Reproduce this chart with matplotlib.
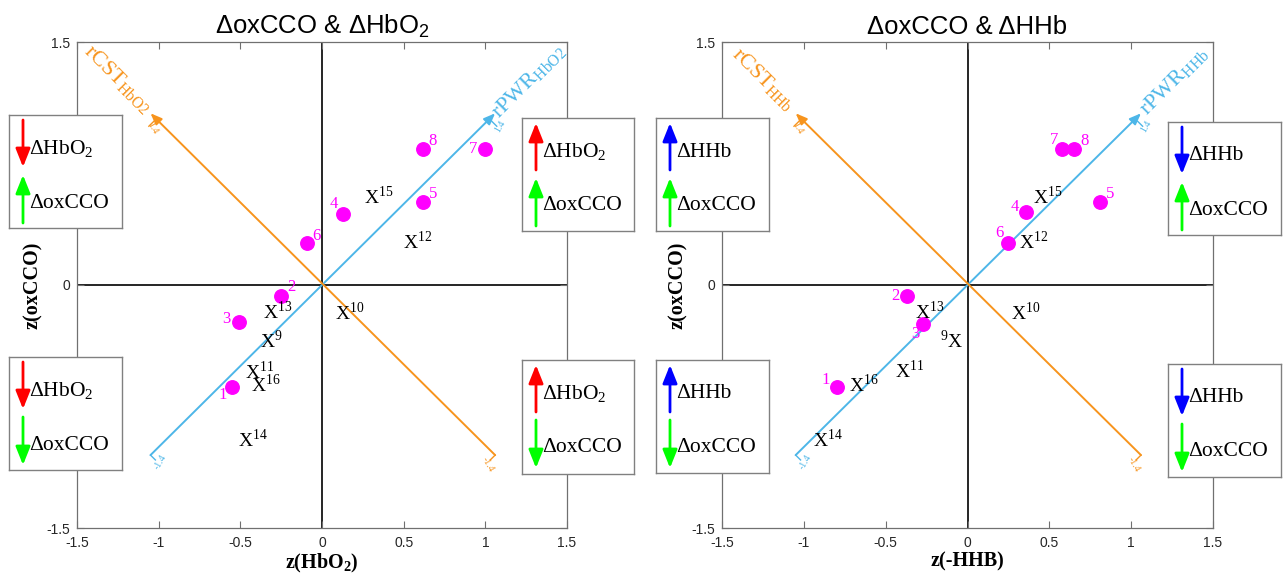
import numpy as np
import matplotlib
matplotlib.use("Agg")
import matplotlib.pyplot as plt

plt.rcParams['mathtext.fontset'] = 'custom'
plt.rcParams['mathtext.rm'] = 'Liberation Serif'
plt.rcParams['mathtext.sf'] = 'Liberation Sans'
plt.rcParams['mathtext.bf'] = 'Liberation Serif:bold'

# ---- data: left panel (dHbO2 vs doxCCO) ----
hbo2_dot_id = [1, 2, 3, 4, 5, 6, 7, 8]
hbo2_dot_x = [-0.55, -0.25, -0.51, 0.13, 0.62, -0.09, 1.00, 0.62]
hbo2_dot_y = [-0.63, -0.07, -0.23, 0.44, 0.51, 0.26, 0.84, 0.84]
hbo2_x_id = [9, 10, 11, 12, 13, 14, 15, 16]
hbo2_x_x = [-0.34, 0.12, -0.43, 0.54, -0.32, -0.47, 0.30, -0.39]
hbo2_x_y = [-0.35, -0.18, -0.54, 0.26, -0.17, -0.96, 0.54, -0.62]

# ---- data: right panel (dHHb vs doxCCO) ----
hhb_dot_id = [1, 2, 3, 4, 5, 6, 7, 8]
hhb_dot_x = [-0.80, -0.37, -0.27, 0.36, 0.81, 0.25, 0.58, 0.65]
hhb_dot_y = [-0.63, -0.07, -0.24, 0.45, 0.51, 0.26, 0.84, 0.84]
hhb_x_id = [9, 10, 11, 12, 13, 14, 15, 16]
hhb_x_x = [-0.07, 0.31, -0.40, 0.36, -0.28, -0.90, 0.44, -0.68]
hhb_x_y = [-0.35, -0.18, -0.535, 0.26, -0.17, -0.96, 0.54, -0.62]

axis_lo, axis_hi = -1.05, 1.06
axis_tick_lo, axis_tick_hi = '-1.4', '1.4'

# label offsets (points) for the numbered dots
hbo2_num_off = {1: (-7, -6), 2: (7, 7), 3: (-9, 2), 4: (-7, 7),
                5: (7, 6), 6: (6.5, 5), 7: (-9, 0), 8: (7, 6)}
hhb_num_off = {1: (-8, 5), 2: (-8.5, 0), 3: (-5.5, -7), 4: (-8, 4),
               5: (7, 6), 6: (-6.5, 7), 7: (-6, 6.5), 8: (8, 6)}
hhb_x_before = {9}

BLUE = '#4DB6E8'
ORANGE = '#F7941D'
MAG = '#FF00FF'
SERIF = 'Liberation Serif'
SANS = 'Liberation Sans'

W, H = 1284, 574
fig = plt.figure(figsize=(W / 100, H / 100), dpi=100)


def px_axes(l, t, r, b):
    return [l / W, 1 - b / H, (r - l) / W, (b - t) / H]


def draw_panel(ax, title, xlabel, sub, dot_id, dot_x, dot_y, x_id, x_x, x_y, num_off, x_before=()):
    ax.set_xlim(-1.5, 1.5)
    ax.set_ylim(-1.5, 1.5)
    ax.set_xticks([-1.5, -1, -0.5, 0, 0.5, 1, 1.5])
    ax.set_xticklabels(['-1.5', '-1', '-0.5', '0', '0.5', '1', '1.5'])
    ax.set_yticks([-1.5, 0, 1.5])
    ax.set_yticklabels(['-1.5', '0', '1.5'])
    ax.tick_params(direction='in', top=True, right=True, length=5, width=0.8,
                   color='#707070', labelsize=10, labelcolor='#262626')
    ax.tick_params(axis='x', pad=6)
    ax.tick_params(axis='y', pad=5)
    for lab in ax.get_xticklabels() + ax.get_yticklabels():
        lab.set_fontfamily(SANS)
    for sp in ax.spines.values():
        sp.set_color('#707070')
        sp.set_linewidth(0.9)

    ax.axhline(0, color='black', lw=1.2, zorder=1)
    ax.axvline(0, color='black', lw=1.2, zorder=1)

    # rPWR (blue) and rCST (orange) axes
    arr = dict(arrowstyle='-|>,head_length=0.45,head_width=0.18', lw=1.4,
               mutation_scale=15, shrinkA=0, shrinkB=0)
    ax.annotate('', xy=(axis_hi, axis_hi), xytext=(axis_lo, axis_lo),
                arrowprops=dict(color=BLUE, **arr), zorder=2)
    ax.annotate('', xy=(axis_lo, axis_hi), xytext=(axis_hi, axis_lo),
                arrowprops=dict(color=ORANGE, **arr), zorder=2)
    t = 0.03
    ax.plot([axis_lo, axis_lo + t], [axis_lo, axis_lo - t], color=BLUE, lw=1)
    ax.plot([axis_hi - 0.02, axis_hi - 0.02 + t], [axis_hi - 0.05, axis_hi - 0.05 - t], color=BLUE, lw=1)
    ax.plot([axis_hi, axis_hi - t], [axis_lo, axis_lo - t], color=ORANGE, lw=1)
    ax.plot([axis_lo + 0.02, axis_lo + 0.02 - t], [axis_hi - 0.05, axis_hi - 0.05 - t], color=ORANGE, lw=1)
    ax.text(axis_hi + 0.03, axis_hi - 0.08, axis_tick_hi, color=BLUE, fontsize=7,
            family=SERIF, rotation=60, ha='center', va='center')
    ax.text(axis_lo + 0.01, axis_hi - 0.09, axis_tick_hi, color=ORANGE, fontsize=7,
            family=SERIF, rotation=-60, ha='center', va='center')
    ax.text(axis_lo + 0.06, axis_lo - 0.04, axis_tick_lo, color=BLUE, fontsize=7,
            family=SERIF, rotation=60, ha='center', va='center')
    ax.text(axis_hi - 0.045, axis_lo - 0.06, axis_tick_lo, color=ORANGE, fontsize=7,
            family=SERIF, rotation=-60, ha='center', va='center')
    ax.text(1.265, 1.255, r'rPWR$_{\mathrm{' + sub + '}}$', color=BLUE, fontsize=16,
            family=SERIF, rotation=45, ha='center', va='center', rotation_mode='anchor')
    ax.text(-1.25, 1.27, r'rCST$_{\mathrm{' + sub + '}}$', color=ORANGE, fontsize=16,
            family=SERIF, rotation=-45, ha='center', va='center', rotation_mode='anchor')

    # numbered dots
    ax.plot(dot_x, dot_y, 'o', color=MAG, markersize=9.7, zorder=4)
    for i, x, y in zip(dot_id, dot_x, dot_y):
        ax.annotate(str(i), (x, y), xytext=num_off[i], textcoords='offset points',
                    color=MAG, fontsize=12, family=SERIF, ha='center', va='center', zorder=5)

    # X markers
    for i, x, y in zip(x_id, x_x, x_y):
        if i in x_before:
            ax.annotate(r'$^{%d}$X' % i, (x, y), xytext=(5, -4.6), textcoords='offset points',
                        fontsize=14, family=SERIF, ha='right', va='baseline', zorder=5)
        else:
            ax.annotate(r'X$^{%d}$' % i, (x, y), xytext=(-5, -4.6), textcoords='offset points',
                        fontsize=14, family=SERIF, ha='left', va='baseline', zorder=5)

    ax.set_title(title, fontsize=18.5, family=SANS, pad=6)
    ax.set_xlabel(xlabel, fontsize=14.5, family=SERIF, fontweight='bold', labelpad=1)
    ax.set_ylabel('z(oxCCO)', fontsize=14.5, family=SERIF, fontweight='bold', labelpad=2)


ax1 = fig.add_axes(px_axes(77, 42, 567, 528))
draw_panel(ax1, r'ΔoxCCO & ΔHbO$_\mathsf{2}$', r'z(HbO$_\mathbf{2}$)', 'HbO2',
           hbo2_dot_id, hbo2_dot_x, hbo2_dot_y, hbo2_x_id, hbo2_x_x, hbo2_x_y, hbo2_num_off)

ax2 = fig.add_axes(px_axes(722, 42, 1213, 528))
draw_panel(ax2, 'ΔoxCCO & ΔHHb', 'z(-HHB)', 'HHb',
           hhb_dot_id, hhb_dot_x, hhb_dot_y, hhb_x_id, hhb_x_x, hhb_x_y, hhb_num_off, hhb_x_before)


def add_box(rect, top_label, top_color, top_up, bottom_up):
    l, t, r, b = rect
    w, h = r - l, b - t
    bx = fig.add_axes(px_axes(l, t, r, b))
    bx.set_xlim(0, w)
    bx.set_ylim(h, 0)
    bx.set_xticks([])
    bx.set_yticks([])
    bx.set_facecolor('white')
    for sp in bx.spines.values():
        sp.set_color('#808080')
        sp.set_linewidth(1)
    arr = dict(arrowstyle='-|>,head_length=0.5,head_width=0.2', lw=2,
               mutation_scale=22, shrinkA=0, shrinkB=0)
    ax_x = 14
    for (y0, y1), up, col in [((5, 52), top_up, top_color), ((60, 108), bottom_up, '#00FF00')]:
        head, tail = (y0, y1) if up else (y1, y0)
        bx.annotate('', xy=(ax_x, head), xytext=(ax_x, tail), arrowprops=dict(color=col, **arr))
    bx.text(20, 34, top_label, fontsize=15.5, family=SERIF, ha='left', va='center')
    bx.text(20, 88, 'ΔoxCCO', fontsize=15.5, family=SERIF, ha='left', va='center')


HB = r'ΔHbO$_{\mathrm{2}}$'
add_box((9, 115, 122, 228), HB, '#FF0000', False, True)
add_box((522, 118, 634, 231), HB, '#FF0000', True, True)
add_box((9, 357, 122, 470), HB, '#FF0000', False, False)
add_box((522, 360, 634, 474), HB, '#FF0000', True, False)
add_box((656, 118, 769, 231), 'ΔHHb', '#0000FF', True, True)
add_box((1168, 122, 1281, 235), 'ΔHHb', '#0000FF', False, True)
add_box((656, 360, 769, 473), 'ΔHHb', '#0000FF', True, False)
add_box((1168, 364, 1281, 477), 'ΔHHb', '#0000FF', False, False)

fig.savefig('out.png', dpi=100)
